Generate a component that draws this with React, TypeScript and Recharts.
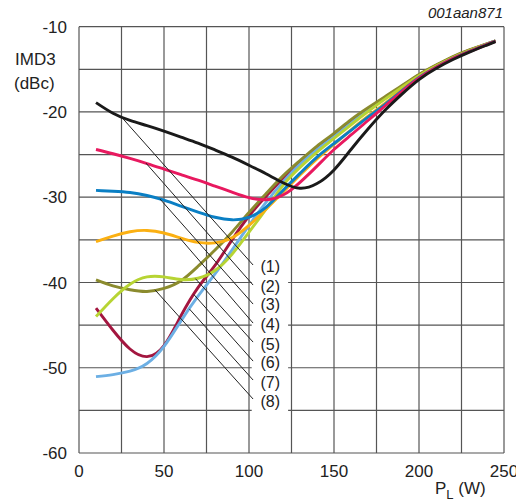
import React from 'react';
import {
  LineChart,
  Line,
  XAxis,
  YAxis,
  CartesianGrid,
  ReferenceLine,
  ReferenceArea,
  ReferenceDot,
} from 'recharts';

// Load power P_L (W)
const X_VALUES = [10, 20, 30, 40, 50, 60, 70, 80, 90, 100, 110, 120, 130, 140, 150, 160, 170, 180, 190, 200, 210, 220, 230, 240, 245];

// IMD3 (dBc) per curve
const IMD_1 = [-18.9, -20.15, -21.0, -21.6, -22.25, -22.95, -23.65, -24.45, -25.3, -26.25, -27.25, -28.3, -28.95, -28.4, -26.8, -24.4, -22.0, -19.8, -17.9, -16.2, -14.9, -13.85, -12.95, -12.15, -11.75];
const IMD_2 = [-24.4, -24.9, -25.45, -26.05, -26.7, -27.35, -28.0, -28.7, -29.4, -30.05, -30.3, -29.75, -28.25, -26.35, -24.4, -22.7, -21.0, -19.3, -17.6, -16.05, -14.8, -13.75, -12.9, -12.1, -11.72];
const IMD_3 = [-29.2, -29.3, -29.45, -29.8, -30.35, -31.05, -31.75, -32.35, -32.65, -32.35, -31.2, -29.2, -27.2, -25.3, -23.7, -22.15, -20.6, -19.1, -17.5, -15.95, -14.75, -13.7, -12.85, -12.07, -11.7];
const IMD_4 = [-35.2, -34.55, -34.05, -33.9, -34.2, -34.8, -35.3, -35.35, -34.75, -33.3, -31.4, -29.4, -27.4, -25.5, -23.8, -22.1, -20.5, -19.0, -17.4, -15.9, -14.7, -13.67, -12.82, -12.05, -11.68];
const IMD_5 = [-44.0, -41.9, -40.2, -39.35, -39.35, -39.65, -39.5, -38.6, -36.7, -34.1, -31.4, -28.6, -26.5, -24.7, -23.1, -21.5, -19.95, -18.5, -17.1, -15.75, -14.62, -13.62, -12.77, -12.03, -11.68];
const IMD_6 = [-43.0, -45.6, -47.8, -48.7, -47.4, -43.9, -40.6, -38.0, -35.0, -32.2, -29.9, -27.8, -25.9, -24.2, -22.7, -21.1, -19.65, -18.3, -17.0, -15.65, -14.55, -13.55, -12.72, -12.0, -11.65];
const IMD_7 = [-51.05, -50.8, -50.4, -49.5, -47.5, -44.5, -41.6, -39.0, -36.2, -33.3, -30.6, -28.2, -26.1, -24.4, -22.9, -21.3, -19.8, -18.4, -17.05, -15.7, -14.6, -13.6, -12.75, -12.02, -11.67];
const IMD_8 = [-39.7, -40.4, -40.85, -41.05, -40.7, -39.8, -38.1, -36.2, -34.1, -31.8, -29.6, -27.5, -25.7, -24.0, -22.5, -20.9, -19.5, -18.2, -16.9, -15.6, -14.5, -13.5, -12.7, -12.0, -11.65];

const SERIES_KEYS = ['c6', 'c7', 'c8', 'c5', 'c4', 'c3', 'c2', 'c1'];
const SERIES_COLORS: Record<string, string> = {
  c1: '#1a1a1a',
  c2: '#e8195f',
  c3: '#0a7fc4',
  c4: '#fbb012',
  c5: '#b7d433',
  c6: '#a3163f',
  c7: '#6cafe4',
  c8: '#8b8b2e',
};

// Curve labels and their leader lines
const LABEL_NAMES = ['(1)', '(2)', '(3)', '(4)', '(5)', '(6)', '(7)', '(8)'];
const LABEL_X = 112.5;
const LABEL_Y = [-38.1, -40.4, -42.62, -44.95, -47.2, -49.42, -51.72, -53.95];
const LEADER_START_X = [25, 39.4, 47.6, 59.4, 68.5, 67.5, 64.9, 44.7];
const LEADER_START_Y = [-20.6, -26.0, -30.2, -34.8, -39.55, -41.4, -43.1, -40.86];
const LEADER_END_X = 102.4;
const LEADER_END_Y = [-37.95, -40.3, -42.53, -44.76, -46.99, -49.22, -51.44, -53.67];

const X_TICKS = [0, 25, 50, 75, 100, 125, 150, 175, 200, 225, 250];
const Y_TICKS = [-60, -55, -50, -45, -40, -35, -30, -25, -20, -15, -10];

const DATA = X_VALUES.map((x, i) => ({
  x,
  c1: IMD_1[i],
  c2: IMD_2[i],
  c3: IMD_3[i],
  c4: IMD_4[i],
  c5: IMD_5[i],
  c6: IMD_6[i],
  c7: IMD_7[i],
  c8: IMD_8[i],
}));

const FONT = '"Liberation Sans", Arial, Helvetica, sans-serif';
const TEXT_COLOR = '#222';

export default function App() {
  return (
    <div style={{ position: 'relative', width: 516, height: 495, fontFamily: FONT }}>
      <style>{'html,body{overflow:hidden;}'}</style>
      <LineChart
        width={516}
        height={495}
        data={DATA}
        margin={{ top: 18.7, right: 20, bottom: 0, left: 0 }}
      >
        <CartesianGrid stroke="#555555" strokeWidth={1.2} />
        <XAxis
          dataKey="x"
          type="number"
          domain={[0, 250]}
          ticks={X_TICKS}
          interval={0}
          height={50}
          axisLine={false}
          tickLine={false}
          tickSize={0}
          tickMargin={12}
          tickFormatter={(v: number) => (v % 50 === 0 ? String(v) : '')}
          tick={{ fill: TEXT_COLOR, fontSize: 17, fontFamily: FONT }}
        />
        <YAxis
          type="number"
          domain={[-60, -10]}
          ticks={Y_TICKS}
          interval={0}
          width={71}
          axisLine={false}
          tickLine={false}
          tickSize={0}
          tickMargin={12}
          tickFormatter={(v: number) => (v % 10 === 0 ? String(v) : '')}
          tick={{ fill: TEXT_COLOR, fontSize: 17, fontFamily: FONT }}
        />
        <ReferenceArea
          x1={101.6}
          x2={123}
          y1={-55.6}
          y2={-36.9}
          fill="#ffffff"
          fillOpacity={1}
          stroke="none"
        />
        {SERIES_KEYS.map((k) => (
          <Line
            key={k}
            dataKey={k}
            type="natural"
            stroke={SERIES_COLORS[k]}
            strokeWidth={2.9}
            dot={false}
            activeDot={false}
            isAnimationActive={false}
          />
        ))}
        {LABEL_NAMES.map((name, i) => (
          <ReferenceLine
            key={'leader' + name}
            segment={[
              { x: LEADER_START_X[i], y: LEADER_START_Y[i] },
              { x: LEADER_END_X, y: LEADER_END_Y[i] },
            ]}
            stroke="#222"
            strokeWidth={1}
          />
        ))}
        {LABEL_NAMES.map((name, i) => (
          <ReferenceDot
            key={'label' + name}
            x={LABEL_X}
            y={LABEL_Y[i]}
            r={0}
            fill="none"
            stroke="none"
            label={{ value: name, position: 'center', fill: TEXT_COLOR, fontSize: 16, fontFamily: FONT }}
          />
        ))}
      </LineChart>
      <div style={{ position: 'absolute', left: 7, top: 42, fontSize: 17, lineHeight: '20px', color: TEXT_COLOR }}>IMD3</div>
      <div style={{ position: 'absolute', left: 6, top: 66, fontSize: 17, lineHeight: '20px', color: TEXT_COLOR }}>(dBc)</div>
      <div style={{ position: 'absolute', right: 21, top: -5, fontSize: 15, lineHeight: '20px', fontStyle: 'italic', color: TEXT_COLOR }}>001aan871</div>
      <div style={{ position: 'absolute', left: 427, top: 471, fontSize: 17, lineHeight: '20px', color: TEXT_COLOR, whiteSpace: 'nowrap' }}>
        P<sub style={{ fontSize: 13, verticalAlign: 'baseline', position: 'relative', top: 5 }}>L</sub> (W)
      </div>
    </div>
  );
}
